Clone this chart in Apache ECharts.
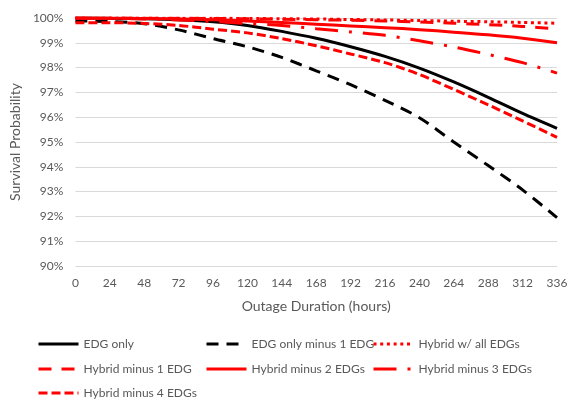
<!DOCTYPE html>
<html>
<head>
<meta charset="utf-8">
<script src="https://cdn.jsdelivr.net/npm/echarts@6/dist/echarts.min.js"></script>
<style>
html,body{margin:0;padding:0;background:#fff;}
#chart{width:575px;height:401px;}
</style>
</head>
<body>
<div id="chart"></div>
<script>
const hours = [0,24,48,72,96,120,144,168,192,216,240,264,288,312,336];
const xTicks = hours;
const yTicks = [90,91,92,93,94,95,96,97,98,99,100];

const edgOnly       = [100, 99.99, 99.97, 99.93, 99.85, 99.70, 99.46, 99.18, 98.84, 98.45, 97.98, 97.42, 96.80, 96.15, 95.55];
const edgMinus1     = [99.88, 99.86, 99.77, 99.52, 99.17, 98.84, 98.41, 97.87, 97.31, 96.68, 95.98, 95.00, 94.05, 93.07, 91.95];
const hybridAll     = [100, 100, 100, 99.99, 99.99, 99.98, 99.97, 99.96, 99.94, 99.92, 99.90, 99.87, 99.85, 99.82, 99.79];
const hybridMinus1  = [100, 100, 99.99, 99.99, 99.98, 99.97, 99.95, 99.93, 99.91, 99.88, 99.84, 99.79, 99.73, 99.66, 99.56];
const hybridMinus2  = [100, 99.99, 99.98, 99.96, 99.93, 99.88, 99.82, 99.75, 99.68, 99.61, 99.53, 99.43, 99.32, 99.18, 99.00];
const hybridMinus3  = [100, 99.99, 99.96, 99.92, 99.86, 99.78, 99.70, 99.57, 99.44, 99.30, 99.08, 98.83, 98.53, 98.20, 97.78];
const hybridMinus4  = [99.81, 99.81, 99.78, 99.70, 99.55, 99.40, 99.17, 98.88, 98.55, 98.20, 97.72, 97.12, 96.50, 95.85, 95.19];

const seriesNames = ['EDG only','EDG only minus 1 EDG','Hybrid w/ all EDGs','Hybrid minus 1 EDG','Hybrid minus 2 EDGs','Hybrid minus 3 EDGs','Hybrid minus 4 EDGs'];
const seriesData = [edgOnly, edgMinus1, hybridAll, hybridMinus1, hybridMinus2, hybridMinus3, hybridMinus4];
const seriesColors = ['#000000','#000000','#ff0000','#ff0000','#ff0000','#ff0000','#ff0000'];
const seriesDash = ['solid',[12,8],[3,3.7],[13,10],'solid',[23,11,3,11],[9,4]];

const FONT = 'Lato';
const TXT = '#595959';

const legendPos = [
  [37,338],[205,338],[372,338],
  [37,363],[205,363],[372,363],
  [37,387]
];

const chart = echarts.init(document.getElementById('chart'), null, {renderer:'canvas'});
const option = {
  animation: false,
  backgroundColor: '#fff',
  grid: {left:75, right:18, top:18, bottom:135},
  xAxis: {
    type:'value', min:0, max:336, interval:24,
    name:'Outage Duration (hours)', nameLocation:'middle', nameGap:33,
    nameTextStyle:{color:TXT, fontSize:14, fontFamily:FONT},
    axisLine:{show:false}, axisTick:{show:false}, splitLine:{show:false},
    axisLabel:{color:TXT, fontSize:12, fontFamily:FONT, margin:11}
  },
  yAxis: {
    type:'value', min:90, max:100, interval:1,
    name:'Survival Probability', nameLocation:'middle', nameGap:45,
    nameTextStyle:{color:TXT, fontSize:14, fontFamily:FONT},
    axisLine:{show:false}, axisTick:{show:false},
    splitLine:{lineStyle:{color:'#d9d9d9', width:1}},
    axisLabel:{color:TXT, fontSize:12, fontFamily:FONT, margin:12, formatter:'{value}%'}
  },
  legend: seriesNames.map((n,i)=>({
    data:[n], left:legendPos[i][0], top:legendPos[i][1], padding:0,
    itemWidth:40, itemHeight:12, selectedMode:false,
    textStyle:{color:TXT, fontSize:12, fontFamily:FONT},
    itemStyle:{opacity:0},
    lineStyle:{width:3}
  })),
  series: seriesNames.map((n,i)=>({
    name:n, type:'line', symbol:'none', smooth:0.3,
    data: hours.map((h,j)=>[h, seriesData[i][j]]),
    lineStyle:{color:seriesColors[i], width:3, type:seriesDash[i]},
    itemStyle:{color:seriesColors[i]},
    z: 2+i
  }))
};
chart.setOption(option);
</script>
</body>
</html>
